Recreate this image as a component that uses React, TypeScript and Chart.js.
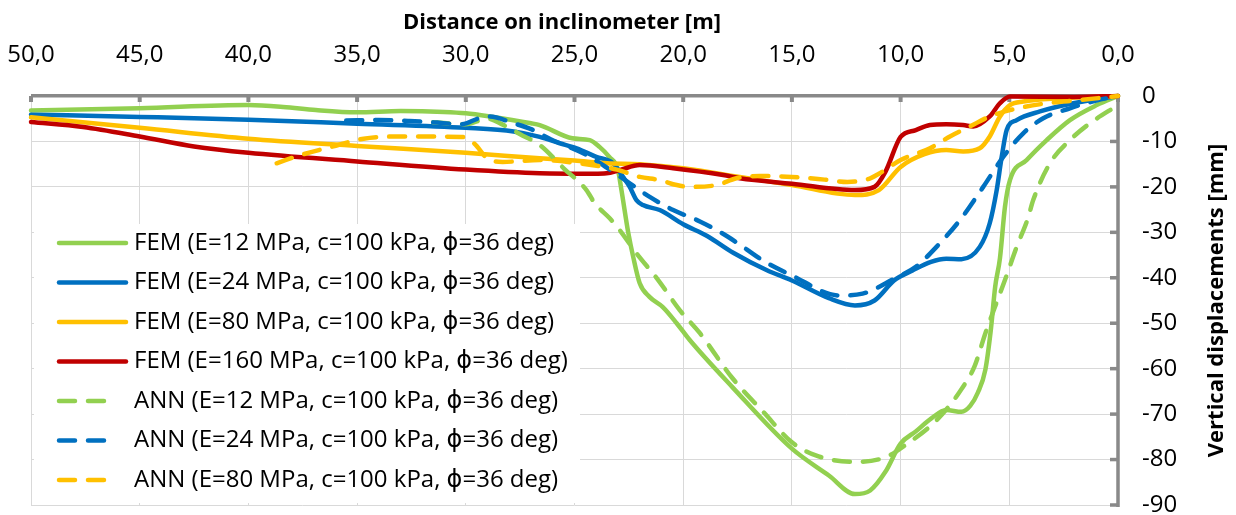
import React, { useEffect, useRef } from 'react';
import { Chart, registerables } from 'chart.js';

Chart.register(...registerables);

// ---------- data ----------
const seriesLabels = [
  'FEM (E=12 MPa, c=100 kPa, \u03D5=36 deg)',
  'FEM (E=24 MPa, c=100 kPa, \u03D5=36 deg)',
  'FEM (E=80 MPa, c=100 kPa, \u03D5=36 deg)',
  'FEM (E=160 MPa, c=100 kPa, \u03D5=36 deg)',
  'ANN (E=12 MPa, c=100 kPa, \u03D5=36 deg)',
  'ANN (E=24 MPa, c=100 kPa, \u03D5=36 deg)',
  'ANN (E=80 MPa, c=100 kPa, \u03D5=36 deg)',
];

const fem12X = [50, 45, 40, 38.4, 36.9, 35, 33, 31, 30, 28.9, 27, 26.6, 25.1, 24.3, 23.85, 23.4, 23.0, 22.84, 22.53, 22.3, 22.0, 21.55, 20.95, 20.3, 19.7, 17.75, 15, 13.3, 12.1, 11.4, 10.7, 10.0, 9.3, 8.6, 7.9, 7.2, 6.8, 6.45, 6.1, 5.85, 5.65, 5.43, 5.2, 4.97, 4.2, 3.28, 2.21, 0.98, 0];
const fem12Y = [-3.2, -2.7, -2.0, -2.4, -3.1, -3.6, -3.3, -3.5, -3.8, -4.5, -6.0, -6.4, -9.3, -9.7, -11.2, -13.4, -16.3, -20.7, -30.0, -35.4, -41.2, -44.2, -46.4, -50, -53.7, -64.0, -77.6, -83.5, -87.6, -86.8, -82.7, -76.5, -73.8, -71, -69.1, -69.5, -68.2, -65.3, -60.2, -51.5, -42, -35.7, -24.4, -18.5, -14.1, -9.7, -5.3, -2, 0];

const fem24X = [50, 45, 40, 35, 30, 27.8, 26.6, 25.68, 24.9, 24.0, 23.23, 22.77, 22.46, 22.15, 21.85, 21.08, 20, 18.9, 17.7, 16.17, 15, 13.3, 12.1, 11.2, 10.3, 9.45, 8.6, 7.9, 7.2, 6.36, 5.9, 5.58, 5.35, 5.12, 4.66, 3.59, 2.06, 0];
const fem24Y = [-4.1, -4.6, -5.2, -6.1, -7.0, -7.8, -9.0, -10.4, -11.5, -13.4, -14.8, -17.8, -20, -22.9, -24.0, -25.1, -28.2, -30.8, -34.5, -38.3, -40.6, -44.5, -46.1, -45, -40.6, -38.4, -36.5, -35.8, -35.9, -33.2, -28, -20.7, -13.4, -7.5, -5.3, -3.4, -1.6, 0];

const fem80X = [50, 45, 40, 35, 30, 26.6, 25, 23.5, 22.0, 20, 17.4, 15, 12.1, 11, 10, 8.9, 7.9, 7.12, 6.36, 5.9, 5.43, 4.97, 4.36, 2.7, 0];
const fem80Y = [-4.7, -7.0, -9.4, -11.0, -12.5, -13.7, -14.2, -14.8, -15.0, -15.9, -17.8, -19.6, -21.8, -20.7, -15.6, -12.8, -11.9, -12.2, -11.5, -8.9, -4.5, -2.0, -1.2, -0.5, 0];

const fem160X = [50, 47.6, 45, 42.5, 40, 35, 30, 26.6, 24.1, 23.53, 22.92, 22.0, 20.46, 18.16, 17.4, 15, 12.1, 11.2, 10.7, 10, 9.3, 8.65, 7.9, 7.12, 6.66, 5.9, 5.43, 4.97, 2, 0];
const fem160Y = [-5.7, -6.8, -8.9, -11.1, -12.5, -14.4, -16.2, -17.0, -17.1, -17.0, -16.3, -15.2, -15.9, -17.4, -18.1, -19.3, -20.7, -20, -16.7, -9, -7.5, -6.4, -6.2, -6.4, -6.7, -4.5, -1.6, -0.1, -0.2, 0];

const ann12X = [31.5, 30, 29, 28.3, 27.5, 26.6, 25.5, 24.45, 24.07, 23.38, 22.92, 22.15, 21.15, 20.16, 19.23, 17.75, 16.3, 15, 13.9, 12.1, 10.7, 9.6, 8.6, 7.9, 7.2, 6.6, 6.1, 5.55, 5.2, 4.66, 4.15, 3.9, 3.13, 2.21, 1.29, 0];
const ann12Y = [-5.8, -6.2, -5.0, -6.3, -8.4, -10.8, -15.9, -20.7, -23.6, -26.9, -29.5, -34.6, -40.5, -47.1, -52.2, -62.0, -69.6, -76.2, -79.1, -80.5, -79.5, -76.2, -72.5, -69, -64.5, -59.5, -52.2, -45, -40.5, -33.2, -27, -22.9, -14.8, -9.7, -6, -2];

const ann24X = [35.5, 34, 32.6, 31.5, 30.2, 29.4, 28.9, 27.8, 27, 26.1, 24.6, 23.5, 22.46, 21.54, 20.46, 19.23, 18.0, 17.1, 16.3, 15, 12.8, 11.75, 10.3, 9.3, 8.35, 7.27, 6.2, 5.28, 4.36, 3.44, 2.21, 1, 0];
const ann24Y = [-5.4, -5.3, -5.5, -5.8, -6.2, -4.9, -4.5, -6, -7.3, -9.5, -12.6, -15.8, -19.2, -22.2, -25.1, -27.6, -30.8, -33.7, -36.3, -39.5, -43.9, -43.5, -40.2, -37.6, -33.2, -27.3, -20, -13.4, -8.2, -4.9, -2.7, -1, 0];

const ann80X = [38.7, 37.6, 36.2, 34.7, 33, 30.2, 29.6, 29.0, 28.3, 26.6, 24.8, 23.05, 22.0, 21.08, 20.3, 19.7, 18.47, 17.55, 16.5, 15, 13.5, 12.45, 11.5, 11, 10, 8.65, 7.73, 6.81, 5.9, 4.97, 3.28, 1.75, 0];
const ann80Y = [-14.8, -13, -11.2, -9.4, -8.9, -9.0, -10.5, -13.8, -14.5, -14.1, -14.8, -16.2, -17.8, -18.5, -19.6, -20.0, -19.6, -18.1, -17.6, -17.8, -18.4, -18.9, -18.3, -17.1, -14.1, -11.5, -8.9, -6.7, -4.5, -3.1, -1.6, -0.9, 0];

const xTicks = [50, 45, 40, 35, 30, 25, 20, 15, 10, 5, 0];
const yTicks = [0, -10, -20, -30, -40, -50, -60, -70, -80, -90];

const xTitle = 'Distance on inclinometer [m]';
const yTitle = 'Vertical displacements [mm]';

const seriesColors = ['#92D050', '#0070C0', '#FFC000', '#C00000', '#92D050', '#0070C0', '#FFC000'];
const seriesDashed = [false, false, false, false, true, true, true];

const seriesX = [fem12X, fem24X, fem80X, fem160X, ann12X, ann24X, ann80X];
const seriesY = [fem12Y, fem24Y, fem80Y, fem160Y, ann12Y, ann24Y, ann80Y];

// ---------- styles ----------
const FONT = "'Open Sans', 'DejaVu Sans', sans-serif";
const AXIS_GRAY = '#898989';
const LINE_W = 4.5;
const DASH = [16, 13];

const decorPlugin = {
  id: 'decor',
  beforeDatasetsDraw(chart: any) {
    const { ctx, chartArea: a, scales } = chart;
    const x = scales.x;
    const y = scales.y;
    ctx.save();
    ctx.fillStyle = AXIS_GRAY;
    ctx.fillRect(a.left, a.top - 2, a.right - a.left + 2, 3.5);
    for (const t of xTicks) {
      const px = x.getPixelForValue(t);
      ctx.fillRect(px - 2, a.top, 4, 6);
    }
    ctx.fillRect(a.right - 1.75, a.top - 2, 3.5, a.bottom - a.top + 4);
    for (const t of yTicks) {
      const py = y.getPixelForValue(t);
      ctx.fillRect(a.right - 8, py - 1.75, 8, 3.5);
    }
    ctx.restore();
  },
  afterDatasetsDraw(chart: any) {
    const { ctx, chartArea: a } = chart;
    ctx.save();
    const bx = a.left + 3;
    const by = 224;
    ctx.fillStyle = '#ffffff';
    ctx.fillRect(bx, by, 546, a.bottom - 2 - by);
    const rowStart = 243;
    const rowGap = 39.5;
    ctx.font = `24px ${FONT}`;
    ctx.textBaseline = 'middle';
    ctx.textAlign = 'left';
    seriesLabels.forEach((lab, i) => {
      const ry = rowStart + i * rowGap;
      ctx.strokeStyle = seriesColors[i];
      ctx.lineWidth = LINE_W;
      ctx.lineCap = 'round';
      ctx.setLineDash(seriesDashed[i] ? DASH : []);
      ctx.beginPath();
      ctx.moveTo(59, ry);
      ctx.lineTo(seriesDashed[i] ? 114 : 126, ry);
      ctx.stroke();
      ctx.setLineDash([]);
      ctx.fillStyle = '#000000';
      ctx.fillText(lab, 134, ry);
    });
    ctx.restore();
  },
  afterDraw(chart: any) {
    const { ctx, chartArea: a } = chart;
    ctx.save();
    ctx.fillStyle = '#000000';
    ctx.font = `bold 22px ${FONT}`;
    ctx.textAlign = 'center';
    ctx.textBaseline = 'alphabetic';
    ctx.fillText(xTitle, 562, 29);
    ctx.translate(1223, (a.top + a.bottom) / 2);
    ctx.rotate(-Math.PI / 2);
    ctx.fillText(yTitle, 0, 0);
    ctx.restore();
  },
};

export default function App() {
  const ref = useRef<HTMLCanvasElement | null>(null);

  useEffect(() => {
    document.body.style.margin = '0';
    const canvas = ref.current;
    if (!canvas) return;

    const datasets = seriesLabels.map((label, i) => ({
      label,
      data: seriesX[i].map((xv, j) => ({ x: xv, y: seriesY[i][j] })),
      borderColor: seriesColors[i],
      backgroundColor: seriesColors[i],
      borderWidth: LINE_W,
      borderDash: seriesDashed[i] ? DASH : [],
      borderCapStyle: 'round' as const,
      borderJoinStyle: 'round' as const,
      showLine: true,
      pointRadius: 0,
      pointHoverRadius: 0,
      fill: false,
      tension: 0,
      cubicInterpolationMode: 'monotone' as const,
      clip: false as any,
      order: seriesLabels.length - i,
    }));

    const chart = new Chart(canvas, {
      type: 'scatter',
      data: { datasets },
      plugins: [decorPlugin],
      options: {
        animation: false,
        responsive: false,
        devicePixelRatio: 1,
        layout: { padding: { left: 31, right: 0, top: 0, bottom: 10 } },
        plugins: {
          legend: { display: false },
          tooltip: { enabled: false },
          title: { display: false },
        },
        scales: {
          x: {
            type: 'linear',
            position: 'top',
            reverse: true,
            min: 0,
            max: 50,
            afterBuildTicks: (s: any) => {
              s.ticks = xTicks.map((v) => ({ value: v }));
            },
            afterFit: (s: any) => {
              s.height = 96;
              s.paddingLeft = 0;
              s.paddingRight = 0;
            },
            ticks: {
              maxRotation: 0,
              autoSkip: false,
              padding: 26,
              color: '#000000',
              font: { family: FONT, size: 24, lineHeight: 1.2 },
              callback: (v: any) => Number(v).toFixed(1).replace('.', ','),
            },
            grid: { color: '#d9d9d9', lineWidth: 1, drawTicks: false },
            border: { display: false },
          },
          y: {
            type: 'linear',
            position: 'right',
            min: -90,
            max: 0,
            afterBuildTicks: (s: any) => {
              s.ticks = yTicks.map((v) => ({ value: v }));
            },
            afterFit: (s: any) => {
              s.width = 118;
              s.paddingTop = 0;
              s.paddingBottom = 0;
            },
            ticks: {
              autoSkip: false,
              padding: 24,
              color: '#000000',
              font: { family: FONT, size: 24, lineHeight: 1.2 },
              callback: (v: any) => String(v),
            },
            grid: { color: '#d9d9d9', lineWidth: 1, drawTicks: false },
            border: { display: false },
          },
        },
      },
    });

    return () => {
      chart.destroy();
    };
  }, []);

  return (
    <div style={{ width: 1236, height: 515, position: 'relative', background: '#ffffff' }}>
      <canvas ref={ref} width={1236} height={515} style={{ display: 'block' }} />
    </div>
  );
}
